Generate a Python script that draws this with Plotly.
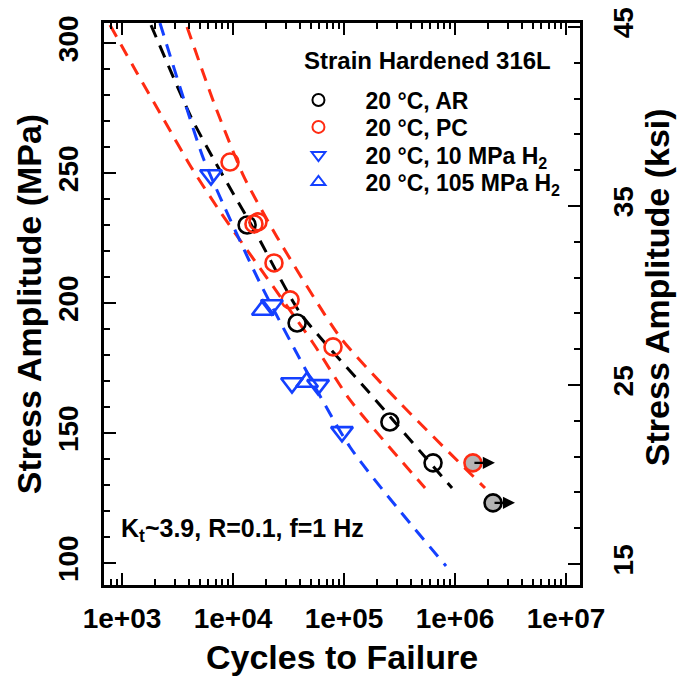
import numpy as np
import plotly.graph_objects as go

# ---------------- data ----------------
ar_N = [13400, 37800, 259000, 634000]
ar_S = [230.0, 192.3, 154.2, 138.5]
ar_runout_N = [2200000]
ar_runout_S = [123.1]

pc_N = [9400, 15450, 16800, 23400, 32700, 79600]
pc_S = [254.2, 230.4, 231.2, 215.4, 201.2, 183.1]
pc_runout_N = [1450000]
pc_runout_S = [138.5]

h10_N = [6340, 22400, 34000, 58400, 95900]
h10_S = [249.2, 199.2, 169.2, 168.5, 150.4]

h105_N = [18600, 46500]
h105_S = [197.3, 169.6]

# dashed fit curves
fit_ar_N = [1825, 4190, 6745, 16100, 40200, 161000, 940000]
fit_ar_S = [306.9, 271.5, 255.0, 226.9, 196.2, 166.5, 128.8]

fit_h2_N = [2198, 3622, 5480, 17500, 113200, 830000]
fit_h2_S = [307.7, 278.1, 255.0, 207.7, 144.6, 98.8]

fit_pc_hi_N = [3855, 6745, 12560, 24900, 92000, 320000, 1862000]
fit_pc_hi_S = [306.2, 276.9, 248.5, 225.4, 186.9, 161.5, 128.8]

fit_pc_lo_N = [780, 1365, 2390, 4190, 7800, 52600, 113200, 537000]
fit_pc_lo_S = [306.9, 288.5, 270.4, 252.3, 234.6, 184.6, 162.7, 128.8]

x_tickvals = [1e3, 1e4, 1e5, 1e6, 1e7]
x_ticktext = ["1e+03", "1e+04", "1e+05", "1e+06", "1e+07"]
y_tickvals = [100, 150, 200, 250, 300]
y2_tickvals = [15, 25, 35, 45]

# ---------------- styling ----------------
BLACK = "#000000"
RED = "#ff2b12"
BLUE = "#1440ff"
GRAY = "#b4b4b4"
FONT = "Liberation Sans, Arial, Helvetica, sans-serif"
DASH = "13px,9px"

fig = go.Figure()

def fit_line(N, S, color):
    fig.add_trace(go.Scatter(x=N, y=S, mode="lines", showlegend=False,
                             line=dict(color=color, width=3, dash=DASH, shape="spline", smoothing=0.6),
                             hoverinfo="skip"))

fit_line(fit_pc_lo_N, fit_pc_lo_S, RED)
fit_line(fit_pc_hi_N, fit_pc_hi_S, RED)
fit_line(fit_ar_N, fit_ar_S, BLACK)
fit_line(fit_h2_N, fit_h2_S, BLUE)

def open_pts(N, S, name, symbol, color, size, legend):
    fig.add_trace(go.Scatter(x=N, y=S, mode="markers", name=name, legend=legend,
                             marker=dict(symbol=symbol, size=size, color=color,
                                         line=dict(color=color, width=2.6))))

def runout_pts(N, S, name, color, size):
    fig.add_trace(go.Scatter(x=N, y=S, mode="markers", name=name, showlegend=False,
                             marker=dict(symbol="circle", size=size, color=GRAY,
                                         line=dict(color=color, width=2.6))))

open_pts(ar_N, ar_S, "20 °C, AR", "circle-open", BLACK, 17, "legend")
open_pts(pc_N, pc_S, "20 °C, PC", "circle-open", RED, 17, "legend2")
open_pts(h10_N, h10_S, "20 °C, 10 MPa H<sub>2</sub>", "triangle-down-open", BLUE, 19, "legend3")
open_pts(h105_N, h105_S, "20 °C, 105 MPa H<sub>2</sub>", "triangle-up-open", BLUE, 19, "legend4")
runout_pts(ar_runout_N, ar_runout_S, "AR runout", BLACK, 17)
runout_pts(pc_runout_N, pc_runout_S, "PC runout", RED, 17)

# runout arrows (tail at the point, head to the right)
for N, S in list(zip(ar_runout_N, ar_runout_S)) + list(zip(pc_runout_N, pc_runout_S)):
    fig.add_annotation(x=np.log10(N), y=S, xref="x", yref="y", text="",
                       showarrow=True, ax=-22, ay=0, xshift=22,
                       arrowhead=2, arrowsize=1.1, arrowwidth=2.2, arrowcolor=BLACK)

# empty trace so the right axis is drawn
fig.add_trace(go.Scatter(x=[], y=[], yaxis="y2", showlegend=False))

fig.add_annotation(x=0.0325, y=0.098, xref="paper", yref="paper",
                   text="K<sub>t</sub>~3.9, R=0.1, f=1 Hz", showarrow=False,
                   xanchor="left", yanchor="middle",
                   font=dict(family=FONT, size=25, color=BLACK, weight="bold"))

# legend heading
fig.add_annotation(x=0.416, y=0.934, xref="paper", yref="paper",
                   text="Strain Hardened 316L", showarrow=False,
                   xanchor="left", yanchor="middle",
                   font=dict(family=FONT, size=24, color=BLACK, weight="bold"))

titlefont = dict(family=FONT, size=34, color=BLACK, weight="bold")
tickfont = dict(family=FONT, size=28, color=BLACK, weight="bold")

# right axis title
fig.add_annotation(x=1.1618, y=0.53, xref="paper", yref="paper",
                   text="Stress Amplitude (ksi)", showarrow=False, textangle=-90,
                   xanchor="center", yanchor="middle", font=titlefont)

leg_common = dict(x=0.3518, xanchor="left", yanchor="middle",
                  bgcolor="rgba(0,0,0,0)", borderwidth=0,
                  itemsizing="constant", itemwidth=84,
                  font=dict(family=FONT, size=23, color=BLACK, weight="bold"))

fig.update_layout(
    width=677, height=677,
    margin=dict(l=104, r=97, t=23, b=92),
    paper_bgcolor="white", plot_bgcolor="white",
    font=dict(family=FONT, color=BLACK),
    xaxis=dict(type="log", range=[2.838, 7.126], automargin=False,
               tickvals=x_tickvals, ticktext=x_ticktext,
               ticks="inside", ticklen=12, tickwidth=2, tickcolor=BLACK,
               minor=dict(ticks="inside", ticklen=6, tickwidth=1.5, tickcolor=BLACK,
                          dtick="D1", showgrid=False),
               showline=True, linewidth=3, linecolor=BLACK, mirror="ticks",
               showgrid=False, zeroline=False, tickfont=tickfont,
               ticklabelstandoff=6,
               title=dict(text="Cycles to Failure", font=titlefont, standoff=13)),
    yaxis=dict(range=[91.5, 307.7], tickvals=y_tickvals, automargin=False,
               ticks="inside", ticklen=12, tickwidth=2, tickcolor=BLACK,
               minor=dict(ticks="inside", ticklen=6, tickwidth=1.5, tickcolor=BLACK,
                          dtick=10, tick0=0, showgrid=False),
               showline=True, linewidth=3, linecolor=BLACK, mirror=False,
               showgrid=False, zeroline=False, tickfont=tickfont, tickangle=-90,
               ticklabelstandoff=12,
               title=dict(text="Stress Amplitude (MPa)", font=titlefont, standoff=1)),
    yaxis2=dict(overlaying="y", side="right", range=[13.83, 45.22], automargin=False,
                tickvals=y2_tickvals,
                ticks="inside", ticklen=12, tickwidth=2, tickcolor=BLACK,
                minor=dict(ticks="inside", ticklen=6, tickwidth=1.5, tickcolor=BLACK,
                           dtick=2, tick0=1, showgrid=False),
                showline=True, linewidth=3, linecolor=BLACK,
                showgrid=False, zeroline=False, tickfont=tickfont, tickangle=-90,
                ticklabelstandoff=16),
    legend=dict(y=0.863, **leg_common),
    legend2=dict(y=0.815, **leg_common),
    legend3=dict(y=0.765, **leg_common),
    legend4=dict(y=0.717, **leg_common),
    showlegend=True,
)

fig.write_html("out.html", config={"displayModeBar": False},
               post_script="document.body.style.margin='0px';")
